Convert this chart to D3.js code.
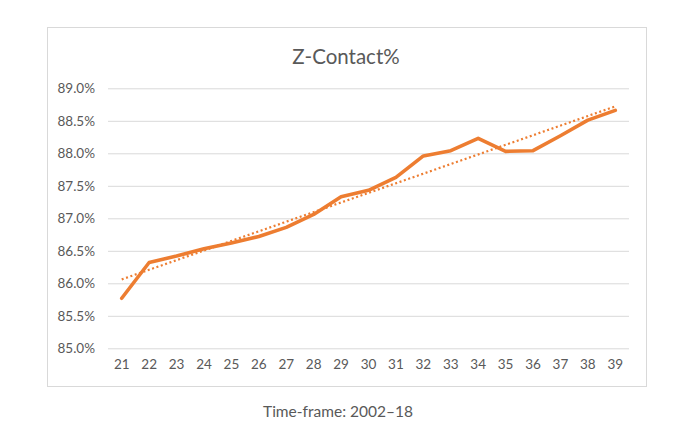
<!DOCTYPE html>
<html>
<head>
<meta charset="utf-8">
<script src="https://cdn.jsdelivr.net/npm/d3@7"></script>
<style>
  html, body { margin: 0; padding: 0; background: #fff; }
  svg { display: block; }
  text { font-family: Lato, "Open Sans", "Liberation Sans", sans-serif; }
</style>
</head>
<body>
<svg id="chart" width="679" height="445"></svg>
<script>
const title = "Z-Contact%";
const caption = "Time-frame: 2002–18";
const categories = ["21","22","23","24","25","26","27","28","29","30","31","32","33","34","35","36","37","38","39"];
const values = [85.77, 86.32, 86.42, 86.53, 86.62, 86.72, 86.86, 87.06, 87.33, 87.43, 87.63, 87.96, 88.04, 88.23, 88.03, 88.04, 88.27, 88.51, 88.66];
const yTicks = [85.0, 85.5, 86.0, 86.5, 87.0, 87.5, 88.0, 88.5, 89.0];

const svg = d3.select("#chart");
const box = {x0: 47.5, y0: 27.5, x1: 646.5, y1: 386.5};
const plot = {left: 108, right: 629, top: 88.3, bottom: 348.3};

svg.append("rect")
  .attr("x", box.x0).attr("y", box.y0)
  .attr("width", box.x1 - box.x0).attr("height", box.y1 - box.y0)
  .attr("fill", "#fff").attr("stroke", "#d9d9d9").attr("stroke-width", 1);

const x = d3.scaleBand().domain(categories).range([plot.left, plot.right]).padding(0);
const y = d3.scaleLinear().domain([85.0, 89.0]).range([plot.bottom, plot.top]);

const yAxis = d3.axisLeft(y).tickValues(yTicks).tickSize(-(plot.right - plot.left))
  .tickPadding(13).tickFormat(d => d.toFixed(1) + "%");
const gy = svg.append("g").attr("transform", `translate(${plot.left},0)`).call(yAxis);
gy.select(".domain").remove();
gy.selectAll(".tick line").attr("stroke", "#d9d9d9").attr("stroke-width", 1);
gy.selectAll(".tick text").attr("fill", "#595959").style("font-size", "13.5px");

const xAxis = d3.axisBottom(x).tickSize(0).tickPadding(11);
const gx = svg.append("g").attr("transform", `translate(0,${plot.bottom})`).call(xAxis);
gx.select(".domain").remove();
gx.selectAll(".tick text").attr("fill", "#595959").style("font-size", "13.5px");

const cx = d => x(d) + x.bandwidth() / 2;

// linear trendline (least squares over data)
const n = values.length;
const xs = d3.range(n);
const mx = d3.mean(xs), my = d3.mean(values);
const slope = d3.sum(xs, i => (i - mx) * (values[i] - my)) / d3.sum(xs, i => (i - mx) ** 2);
const intercept = my - slope * mx;
svg.append("line")
  .attr("x1", cx(categories[0])).attr("y1", y(intercept))
  .attr("x2", cx(categories[n - 1])).attr("y2", y(intercept + slope * (n - 1)))
  .attr("stroke", "#ED7D31").attr("stroke-width", 2.2)
  .attr("stroke-dasharray", "2,2.6");

const line = d3.line().x((d, i) => cx(categories[i])).y(d => y(d));
svg.append("path").datum(values)
  .attr("d", line).attr("fill", "none")
  .attr("stroke", "#ED7D31").attr("stroke-width", 3.6)
  .attr("stroke-linejoin", "round").attr("stroke-linecap", "round");

svg.append("text").attr("x", 346).attr("y", 64)
  .attr("text-anchor", "middle").attr("fill", "#595959")
  .style("font-size", "20.5px").text(title);

svg.append("text").attr("x", 338).attr("y", 417)
  .attr("text-anchor", "middle").attr("fill", "#595959")
  .style("font-size", "15.5px").text(caption);
</script>
</body>
</html>
